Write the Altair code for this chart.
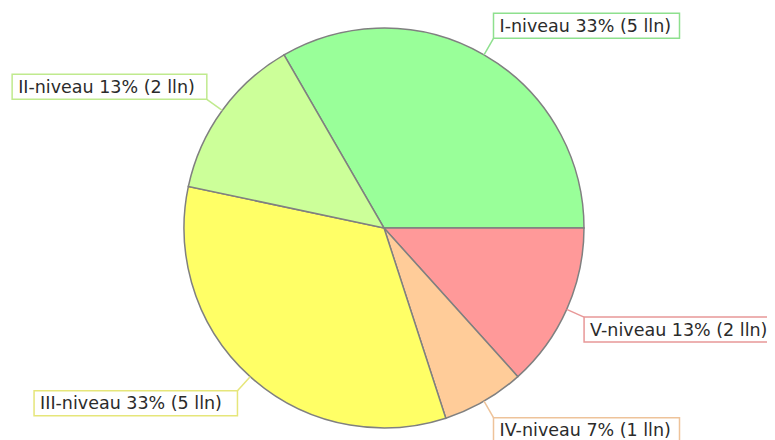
import math
import altair as alt
import pandas as pd

# ---- data ----
levels = ["I-niveau", "II-niveau", "III-niveau", "IV-niveau", "V-niveau"]
counts = [5, 2, 5, 1, 2]
unit = "lln"
fills = ["#99ff99", "#ccff99", "#ffff66", "#ffcc99", "#ff9999"]
borders = ["#8ee08e", "#c0ea8e", "#e6e67a", "#eec39a", "#e89898"]
draw_order = [0, 4, 3, 2, 1]  # clockwise drawing sequence

# ---- layout ----
W, H = 759, 432
CX, CY = 376, 220
R, RL = 200, 219
BOX_H = 25
CHAR_W = 8.7
PAD = 6
START_DEG = -30.0

total = sum(counts)
rows = []
cum = 0
for rank, i in enumerate(draw_order):
    n = counts[i]
    mid = START_DEG + (cum + n / 2) / total * 360
    cum += n
    a = math.radians(90 - mid)
    c, s = math.cos(a), math.sin(a)
    ex, ey = CX + R * c, CY - R * s
    ax, ay = CX + RL * c, CY - RL * s
    pct = round(n / total * 100)
    label = f"{levels[i]} {pct}% ({n} {unit})"
    bw = len(label) * CHAR_W + 2 * PAD
    x1, x2 = (ax, ax + bw) if c > 0 else (ax - bw, ax)
    y1, y2 = (ay - BOX_H, ay) if s > 0 else (ay, ay + BOX_H)
    rows.append(dict(level=levels[i], n=n, rank=rank, label=label,
                     ex=ex, ey=ey, ax=ax, ay=ay, x1=x1, x2=x2, y1=y1, y2=y2,
                     tx=x1 + PAD, ty=(y1 + y2) / 2 + 1))
df = pd.DataFrame(rows)

xs = alt.Scale(domain=[0, W], nice=False, zero=False)
ys = alt.Scale(domain=[0, H], nice=False, zero=False, reverse=True)
fill_scale = alt.Scale(domain=levels, range=fills)
border_scale = alt.Scale(domain=levels, range=borders)

base = alt.Chart(df)

pie = base.mark_arc(radius=R, stroke="#808080", strokeWidth=1.5).encode(
    theta=alt.Theta("n:Q", stack=True,
                    scale=alt.Scale(range=[2 * math.pi + math.radians(START_DEG),
                                           4 * math.pi + math.radians(START_DEG)])),
    order=alt.Order("rank:Q"),
    color=alt.Color("level:N", scale=fill_scale, legend=None),
    x=alt.value(CX),
    y=alt.value(CY),
)

leaders = base.mark_rule(strokeWidth=1.5).encode(
    x=alt.X("ex:Q", scale=xs, axis=None),
    y=alt.Y("ey:Q", scale=ys, axis=None),
    x2="ax:Q",
    y2="ay:Q",
    stroke=alt.Stroke("level:N", scale=border_scale, legend=None),
)

boxes = base.mark_rect(fill="white", strokeWidth=1.5).encode(
    x=alt.X("x1:Q", scale=xs, axis=None),
    y=alt.Y("y1:Q", scale=ys, axis=None),
    x2="x2:Q",
    y2="y2:Q",
    stroke=alt.Stroke("level:N", scale=border_scale, legend=None),
)

texts = base.mark_text(align="left", baseline="middle", font="DejaVu Sans",
                       fontSize=17.5, color="#2b2b2b").encode(
    x=alt.X("tx:Q", scale=xs, axis=None),
    y=alt.Y("ty:Q", scale=ys, axis=None),
    text="label:N",
)

chart = alt.layer(pie, leaders, boxes, texts).properties(
    width=W, height=H, padding=0, autosize="none"
).configure_view(stroke=None)

chart.save("out.html", embed_options={"renderer": "svg", "actions": False})
